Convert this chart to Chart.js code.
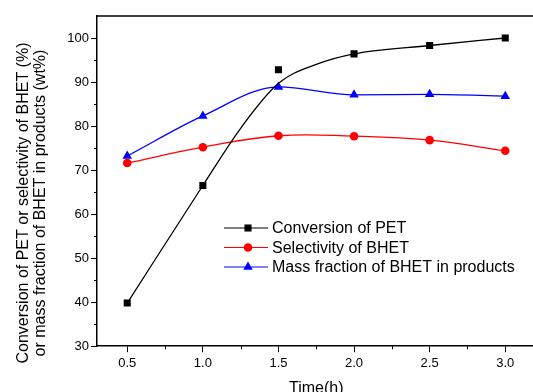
<!DOCTYPE html>
<html>
<head>
<meta charset="utf-8">
<script src="https://cdn.jsdelivr.net/npm/chart.js@4"></script>
<style>
  html, body { margin: 0; padding: 0; background: #fff; overflow: hidden; }
  /* the original figure is cut off at the right edge */
  #wrap { width: 541px; height: 392px; }
</style>
</head>
<body>
<div id="wrap"><canvas id="chart"></canvas></div>
<script>
// data
const timeH = [0.5, 1.0, 1.5, 2.0, 2.5, 3.0];
const conversionPET = [39.8, 66.5, 92.8, 96.4, 98.3, 100];
const selectivityBHET = [71.6, 75.2, 77.8, 77.7, 76.8, 74.4];
const massFractionBHET = [73.2, 82.3, 88.9, 87.1, 87.2, 86.8];
// fitted curve of the conversion
const fitTime = [0.5, 1.0, 1.25, 1.5, 1.75, 2.0, 2.5, 3.0];
const fitConversion = [39.8, 66.5, 79.5, 89.7, 94.0, 96.4, 98.3, 100];

const xTicks = [0.5, 1.0, 1.5, 2.0, 2.5, 3.0];
const xMinor = [0.75, 1.25, 1.75, 2.25, 2.75];
const yTicks = [30, 40, 50, 60, 70, 80, 90, 100];
const yMinor = [35, 45, 55, 65, 75, 85, 95];

const yTitle = ['Conversion of PET or selectivity of BHET (%)', 'or mass fraction of BHET in products (wt%)'];
const legendItems = ['Conversion of PET', 'Selectivity of BHET', 'Mass fraction of BHET in products'];

const FONT = 'Arial, "Liberation Sans", sans-serif';

const pts = (xs, ys) => xs.map((x, i) => ({ x: x, y: ys[i] }));

// minor ticks, top border, y title and legend
const extras = {
    id: 'extras',
    afterDraw(chart) {
        const ctx = chart.ctx;
        const a = chart.chartArea;
        const xs = chart.scales.x, ys = chart.scales.y;
        ctx.save();
        ctx.strokeStyle = '#000';
        ctx.lineWidth = 1;
        ctx.beginPath();
        xMinor.forEach(v => {
            const px = Math.round(xs.getPixelForValue(v)) + 0.5;
            ctx.moveTo(px, a.bottom); ctx.lineTo(px, a.bottom + 3);
        });
        yMinor.forEach(v => {
            const py = Math.round(ys.getPixelForValue(v)) + 0.5;
            ctx.moveTo(a.left, py); ctx.lineTo(a.left - 3, py);
        });
        ctx.stroke();

        // top frame line
        ctx.lineWidth = 1.5;
        ctx.beginPath();
        ctx.moveTo(a.left, a.top); ctx.lineTo(a.right, a.top);
        ctx.stroke();

        // y title, two lines
        ctx.fillStyle = '#000';
        ctx.font = '16px ' + FONT;
        ctx.textAlign = 'center';
        ctx.textBaseline = 'middle';
        ctx.translate(0, 203);
        ctx.rotate(-Math.PI / 2);
        ctx.fillText(yTitle[0], 0, 24);
        ctx.fillText(yTitle[1], 0, 41);
        ctx.setTransform(1, 0, 0, 1, 0, 0);

        // legend
        const sets = [chart.data.datasets[1], chart.data.datasets[2], chart.data.datasets[3]];
        const lx = 224, ly = 228;
        ctx.textAlign = 'left';
        legendItems.forEach((t, i) => {
            const ds = sets[i];
            const y = ly + i * 19.5;
            ctx.strokeStyle = ds.borderColor;
            ctx.lineWidth = 1;
            ctx.beginPath();
            ctx.moveTo(lx, y); ctx.lineTo(lx + 44, y);
            ctx.stroke();
            ctx.fillStyle = ds.pointBackgroundColor;
            Chart.helpers.drawPoint(ctx, {
                pointStyle: ds.pointStyle, radius: ds.pointRadius, borderWidth: 0, rotation: 0
            }, lx + 24, y);
            ctx.fillStyle = '#000';
            ctx.fillText(t, lx + 48, y + 1);
        });
        ctx.restore();
    }
};

new Chart(document.getElementById('chart'), {
    type: 'line',
    data: {
        datasets: [{
            label: 'fit',
            data: pts(fitTime, fitConversion),
            borderColor: '#000',
            borderWidth: 1.3,
            pointRadius: 0,
            cubicInterpolationMode: 'monotone',
            fill: false
        }, {
            label: legendItems[0],
            data: pts(timeH, conversionPET),
            borderColor: '#000',
            pointBackgroundColor: '#000',
            pointBorderColor: '#000',
            pointStyle: 'rect',
            pointRadius: 5,
            borderWidth: 0,
            pointBorderWidth: 0,
            showLine: false
        }, {
            label: legendItems[1],
            data: pts(timeH, selectivityBHET),
            borderColor: '#ff0000',
            pointBackgroundColor: '#ff0000',
            pointBorderColor: '#ff0000',
            pointStyle: 'circle',
            pointRadius: 4.3,
            pointBorderWidth: 0,
            borderWidth: 1.3,
            tension: 0.4
        }, {
            label: legendItems[2],
            data: pts(timeH, massFractionBHET),
            borderColor: '#0000ff',
            pointBackgroundColor: '#0000ff',
            pointBorderColor: '#0000ff',
            pointStyle: 'triangle',
            pointRadius: 5.5,
            pointBorderWidth: 0,
            borderWidth: 1.3,
            cubicInterpolationMode: 'monotone'
        }]
    },
    options: {
        responsive: true,
        maintainAspectRatio: false,
        animation: false,
        layout: { padding: { top: 16, right: 0, bottom: -6, left: 0 } },
        plugins: {
            legend: { display: false },
            tooltip: { enabled: false }
        },
        scales: {
            x: {
                type: 'linear',
                min: 0.3,
                max: 3.2,
                afterBuildTicks: axis => { axis.ticks = xTicks.map(v => ({ value: v })); },
                ticks: {
                    color: '#000',
                    font: { family: FONT, size: 13 },
                    padding: 3,
                    maxRotation: 0,
                    callback: v => v.toFixed(1)
                },
                grid: { drawOnChartArea: false, tickLength: 6, color: '#000' },
                border: { color: '#000', width: 1.5 },
                title: {
                    display: true,
                    text: 'Time(h)',
                    color: '#000',
                    font: { family: FONT, size: 16 },
                    padding: { top: 5, bottom: 0 }
                }
            },
            y: {
                min: 30,
                max: 105,
                afterBuildTicks: axis => { axis.ticks = yTicks.map(v => ({ value: v })); },
                afterFit: scale => { scale.width = 97; },
                ticks: {
                    color: '#000',
                    font: { family: FONT, size: 13 },
                    padding: 2
                },
                grid: { drawOnChartArea: false, tickLength: 6, color: '#000' },
                border: { color: '#000', width: 1.5 }
            }
        }
    },
    plugins: [extras]
});
</script>
</body>
</html>
